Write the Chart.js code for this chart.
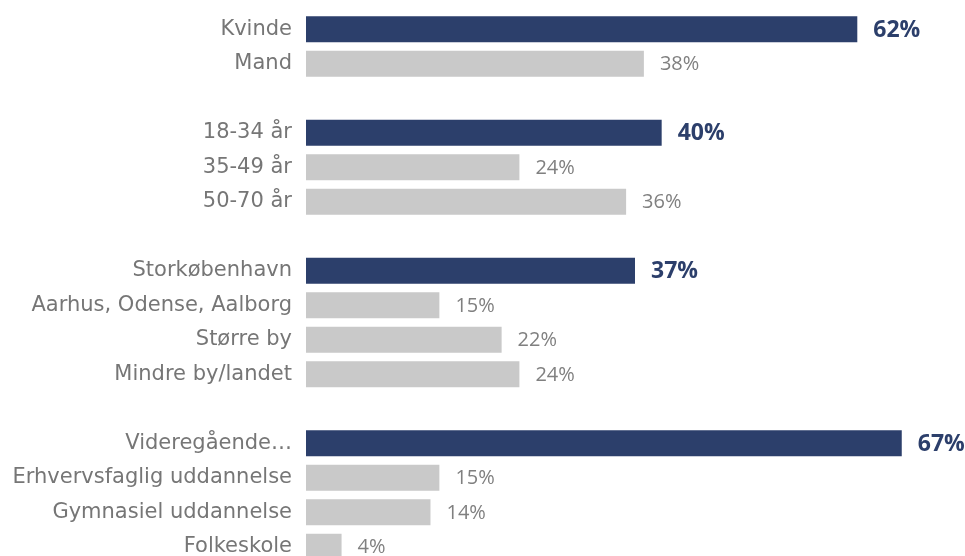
<!DOCTYPE html>
<html>
<head>
<meta charset="utf-8">
<script src="https://cdn.jsdelivr.net/npm/chart.js@4.4.0/dist/chart.umd.min.js"></script>
<style>
    html, body { margin: 0; padding: 0; background: #ffffff; overflow: hidden; }
</style>
</head>
<body>
<canvas id="profileChart" width="965" height="564"></canvas>
<script>
// respondent profile, blank rows separate the groups
const categories = [
    'Kvinde', 'Mand', '',
    '18-34 år', '35-49 år', '50-70 år', '',
    'Storkøbenhavn', 'Aarhus, Odense, Aalborg', 'Større by', 'Mindre by/landet', '',
    'Videregående…', 'Erhvervsfaglig uddannelse', 'Gymnasiel uddannelse', 'Folkeskole'
];
const shares = [
    62, 38, null,
    40, 24, 36, null,
    37, 15, 22, 24, null,
    67, 15, 14, 4
];
// first row of every group is highlighted
const highlighted = [
    true, false, false,
    true, false, false, false,
    true, false, false, false, false,
    true, false, false, false
];

const navy = '#2c3f6b';
const lightGrey = '#c9c9c9';

// writes the share next to the end of each bar
const valueLabels = {
    id: 'valueLabels',
    afterDatasetsDraw(chart) {
        const ctx = chart.ctx;
        const meta = chart.getDatasetMeta(0);
        ctx.save();
        ctx.textBaseline = 'middle';
        ctx.textAlign = 'left';
        meta.data.forEach((bar, i) => {
            if (shares[i] === null) return;
            if (highlighted[i]) {
                ctx.font = 'bold 23px "Open Sans"';
                ctx.fillStyle = navy;
            } else {
                ctx.font = '20px "Open Sans"';
                ctx.fillStyle = '#808080';
            }
            ctx.fillText(shares[i] + '%', bar.x + 16, bar.y + 1);
        });
        ctx.restore();
    }
};

new Chart(document.getElementById('profileChart'), {
    type: 'bar',
    data: {
        labels: categories,
        datasets: [{
            data: shares,
            backgroundColor: highlighted.map(h => h ? navy : lightGrey),
            barPercentage: 0.755,
            categoryPercentage: 1
        }]
    },
    options: {
        indexAxis: 'y',
        responsive: false,
        animation: false,
        layout: { padding: { top: 12, right: 1, bottom: 0, left: 0 } },
        plugins: {
            legend: { display: false },
            tooltip: { enabled: false }
        },
        scales: {
            x: {
                display: false,
                min: 0,
                max: 74
            },
            y: {
                afterFit(axis) {
                    // fixed label column, no extra room for the outer labels
                    axis.width = 306;
                    axis.paddingTop = 0;
                    axis.paddingBottom = 0;
                },
                grid: { display: false, drawTicks: false },
                border: { display: false },
                ticks: {
                    padding: 14,
                    color: '#767676',
                    font: { family: '"DejaVu Sans"', size: 21 },
                    autoSkip: false
                }
            }
        }
    },
    plugins: [valueLabels]
});
</script>
</body>
</html>
